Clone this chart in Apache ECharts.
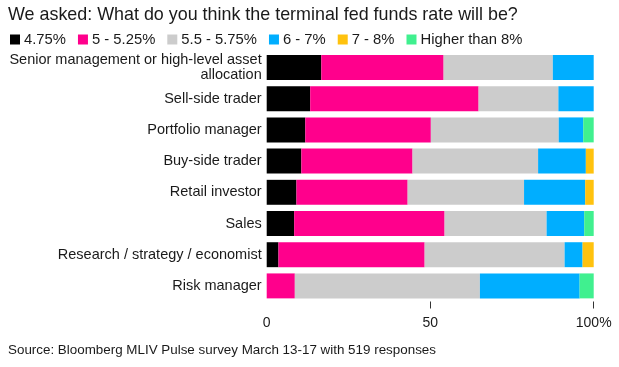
<!DOCTYPE html>
<html>
<head>
<meta charset="utf-8">
<script src="https://cdn.jsdelivr.net/npm/echarts@6/dist/echarts.min.js"></script>
<style>
html,body{margin:0;padding:0;background:#fff;}
#chart{width:619px;height:367px;}
</style>
</head>
<body>
<div id="chart"></div>
<script>
var categories = [
  "Senior management or high-level asset\nallocation",
  "Sell-side trader",
  "Portfolio manager",
  "Buy-side trader",
  "Retail investor",
  "Sales",
  "Research / strategy / economist",
  "Risk manager"
];
var seriesNames = ["4.75%", "5 - 5.25%", "5.5 - 5.75%", "6 - 7%", "7 - 8%", "Higher than 8%"];
var s475 =    [16.7, 13.3, 11.8, 10.6, 9.1, 8.4, 3.6, 0];
var s5 =      [37.4, 51.5, 38.4, 34.0, 34.0, 46.0, 44.7, 8.6];
var s55 =     [33.4, 24.4, 39.1, 38.4, 35.6, 31.2, 42.8, 56.6];
var s6 =      [12.5, 10.8, 7.5, 14.6, 18.7, 11.5, 5.5, 30.5];
var s7 =      [0, 0, 0, 2.4, 2.6, 0, 3.4, 0];
var sHigher = [0, 0, 3.2, 0, 0, 2.9, 0, 4.3];
var tickValues = [0, 50, 100];

var colors = ["#000000", "#ff008c", "#cccccc", "#00aeff", "#ffc20e", "#40f08f"];
var data = [s475, s5, s55, s6, s7, sHigher];
var FONT = "Liberation Sans";

var chart = echarts.init(document.getElementById('chart'), null, {renderer: 'canvas'});
chart.setOption({
  animation: false,
  color: colors,
  title: {
    text: "We asked: What do you think the terminal fed funds rate will be?",
    left: 3, top: 1,
    textStyle: {fontFamily: FONT, fontSize: 17.9, fontWeight: 'normal', color: '#1a1a1a'}
  },
  legend: {
    left: 5, top: 27,
    itemWidth: 10, itemHeight: 10, itemGap: 12,
    icon: 'rect',
    textStyle: {fontFamily: FONT, fontSize: 14.8, color: '#1a1a1a', padding: [0,0,0,-1]},
    data: seriesNames
  },
  graphic: [{
    type: 'text', left: 8, top: 344,
    style: {text: "Source: Bloomberg MLIV Pulse survey March 13-17 with 519 responses",
      font: '13.4px "Liberation Sans"', fill: '#1a1a1a'}
  }],
  grid: {left: 266.7, right: 25.3, top: 51.9, height: 249.6, containLabel: false},
  xAxis: {
    type: 'value', min: 0, max: 100,
    splitLine: {show: false},
    axisLine: {show: false},
    axisTick: {show: true, customValues: [50, 100], length: 7, inside: false, lineStyle: {color: '#333'}},
    axisLabel: {customValues: tickValues, fontFamily: FONT, fontSize: 14, color: '#1a1a1a', margin: 15,
      formatter: function (v) { return v === 100 ? '100%' : String(v); }}
  },
  yAxis: {
    type: 'category', data: categories, inverse: true,
    axisLine: {show: false}, axisTick: {show: false},
    axisLabel: {fontFamily: FONT, fontSize: 14.5, color: '#1a1a1a', margin: 5, lineHeight: 15, align: 'right'}
  },
  series: seriesNames.map(function (n, i) {
    return {
      name: n, type: 'bar', stack: 'all', data: data[i],
      barCategoryGap: '20%',
      itemStyle: {color: colors[i]}
    };
  })
});
</script>
</body>
</html>
